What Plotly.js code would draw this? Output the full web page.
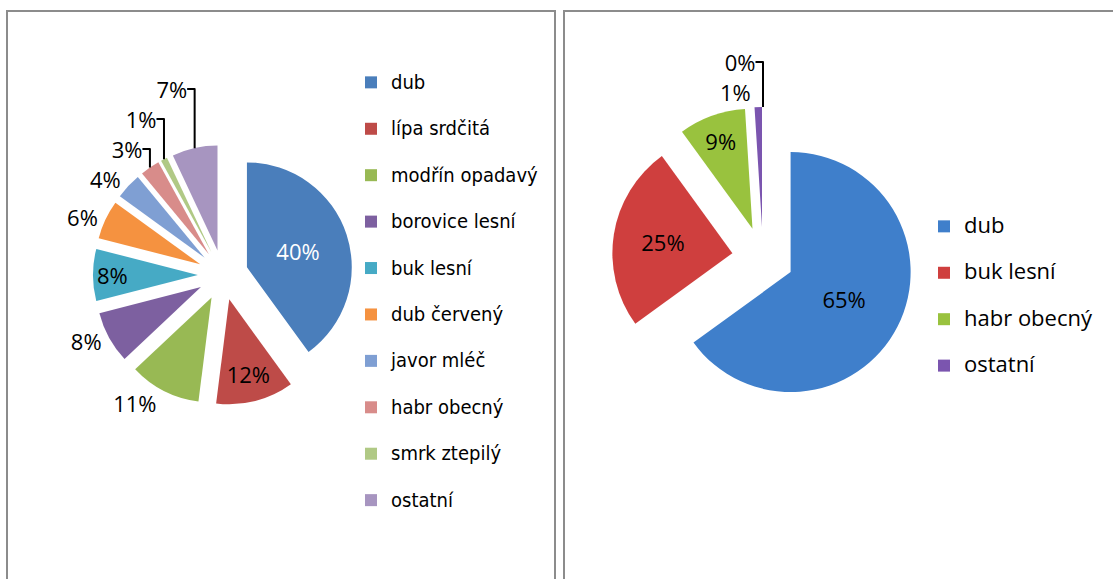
<!DOCTYPE html>
<html>
<head>
<meta charset="utf-8">
<script src="https://cdn.plot.ly/plotly-3.0.1.min.js"></script>
<style>html,body{margin:0;padding:0;background:#fff}#chart{width:1113px;height:579px}</style>
</head>
<body>
<div id="chart"></div>
<script>
// Left chart: tree species share
const leftCategories = ['dub', 'lípa srdčitá', 'modřín opadavý', 'borovice lesní', 'buk lesní', 'dub červený', 'javor mléč', 'habr obecný', 'smrk ztepilý', 'ostatní'];
const leftValues = [40, 12, 11, 8, 8, 6, 4, 3, 1, 7];
const leftColors = ['#4A7EBB', '#BE4B48', '#98B954', '#7D60A0', '#46AAC5', '#F59240', '#7F9FD3', '#D88C8A', '#B0C985', '#A795C0'];
const leftTextPos = ['inside', 'inside', 'outside', 'outside', 'inside', 'outside', 'outside', 'outside', 'outside', 'outside'];
const leftTextColors = ['#FFFFFF', '#000000', '#000000', '#000000', '#000000', '#000000', '#000000', '#000000', '#000000', '#000000'];

// Right chart (last, zero-valued category has no visible legend entry)
const rightCategories = ['dub', 'buk lesní', 'habr obecný', 'ostatní', ' '];
const rightValues = [65, 25, 9, 1, 0];
const rightColors = ['#3F7FCB', '#CF3F3E', '#99C23E', '#7B55AF', 'rgba(0,0,0,0)'];
const rightTextPos = ['inside', 'inside', 'inside', 'outside', 'outside'];

const W = 1113, H = 579;
const px = v => v / W;
const py = v => 1 - v / H;

const pctFont = 'Open Sans, Liberation Sans, sans-serif';
const legendLabel = (c, size, pad) => '<span style="font-size:' + size + 'px">' + c + '</span><br>' + pad;

const traceLeft = {
  type: 'pie',
  labels: leftCategories.map(c => legendLabel(c, 20, ' ')),
  values: leftValues,
  sort: false,
  direction: 'clockwise',
  rotation: 0,
  pull: leftValues.map(() => 0.24),
  marker: {colors: leftColors, line: {width: 0}},
  textinfo: 'percent',
  texttemplate: '%{percent:.0%}',
  textposition: leftTextPos,
  insidetextorientation: 'horizontal',
  insidetextfont: {family: pctFont, size: 22, color: leftTextColors},
  outsidetextfont: {family: pctFont, size: 22, color: '#000000'},
  domain: {x: [px(223 - 130), px(223 + 130)], y: [py(275 + 130), py(275 - 130)]},
  legend: 'legend',
  hoverinfo: 'label+percent'
};

const traceRight = {
  type: 'pie',
  labels: rightCategories.map(c => legendLabel(c, 22, '\u00a0')),
  values: rightValues,
  sort: false,
  direction: 'clockwise',
  rotation: 0,
  pull: rightValues.map(() => 0.258),
  marker: {colors: rightColors, line: {width: 0}},
  textinfo: 'percent',
  texttemplate: '%{percent:.0%}',
  textposition: rightTextPos,
  insidetextorientation: 'horizontal',
  insidetextfont: {family: pctFont, size: 22, color: '#000000'},
  outsidetextfont: {family: pctFont, size: 22, color: '#000000'},
  domain: {x: [px(763 - 151), px(763 + 151)], y: [py(258 + 151), py(258 - 151)]},
  legend: 'legend2',
  hoverinfo: 'label+percent'
};

const layout = {
  width: W, height: H,
  margin: {l: 0, r: 0, t: 0, b: 0},
  paper_bgcolor: '#FFFFFF',
  showlegend: true,
  legend: {
    x: px(351), y: py(65), xanchor: 'left', yanchor: 'top',
    valign: 'top',
    font: {family: 'Liberation Sans Narrow, DejaVu Sans Condensed, Liberation Sans, sans-serif', size: 16.7, color: '#000'},
    bgcolor: 'rgba(0,0,0,0)'
  },
  legend2: {
    x: px(924), y: py(209), xanchor: 'left', yanchor: 'top',
    valign: 'top',
    font: {family: 'Open Sans, sans-serif', size: 16.7, color: '#000'},
    bgcolor: 'rgba(0,0,0,0)'
  },
  shapes: [
    {type: 'rect', xref: 'paper', yref: 'paper', x0: px(7), x1: px(555), y0: py(600), y1: py(11), line: {color: '#8C8C8C', width: 2}},
    {type: 'rect', xref: 'paper', yref: 'paper', x0: px(564), x1: px(1130), y0: py(600), y1: py(11), line: {color: '#8C8C8C', width: 2}}
  ]
};

Plotly.newPlot('chart', [traceLeft, traceRight], layout, {displayModeBar: false, staticPlot: true});
</script>
</body>
</html>
